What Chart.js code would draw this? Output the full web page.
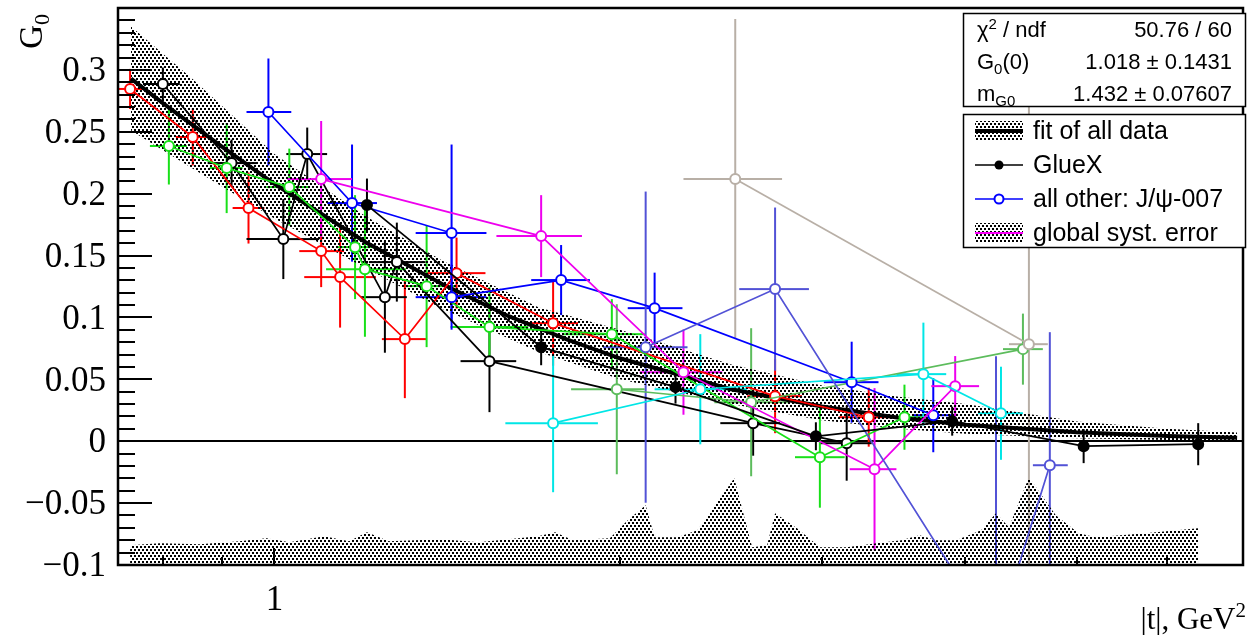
<!DOCTYPE html>
<html>
<head>
<meta charset="utf-8">
<script src="https://cdn.jsdelivr.net/npm/chart.js@4.4.0/dist/chart.umd.min.js"></script>
<style>
  html, body { margin: 0; padding: 0; background: #fff; }
  canvas { display: block; }
</style>
</head>
<body>
<canvas id="c" width="1250" height="635"></canvas>
<script>
// ---------- data: |t| (GeV^2), G0 values, errors ----------
// fit of all data (curve) and its uncertainty band
const fit_t  = [0.75, 0.8, 0.9, 1.0, 1.2, 1.4, 1.6, 1.8, 2.0, 2.5, 3.0, 3.5, 4.0, 5.0, 6.0, 6.9];
const fit_G  = [0.293, 0.273, 0.238, 0.208, 0.161, 0.127, 0.101, 0.082, 0.067, 0.042, 0.028, 0.019, 0.0134, 0.0073, 0.0043, 0.0028];
const band_t  = [0.75, 0.85, 1.0, 1.2, 1.4, 1.7, 2.0, 2.5, 3.0, 3.5, 4.0, 5.0, 6.0, 6.9];
const band_hi = [0.335, 0.292, 0.232, 0.182, 0.146, 0.108, 0.090, 0.062, 0.045, 0.036, 0.030, 0.016, 0.010, 0.007];
const band_lo = [0.251, 0.220, 0.180, 0.140, 0.107, 0.072, 0.050, 0.030, 0.017, 0.010, 0.006, 0.0025, 0.001, 0.0005];

// global systematic error (drawn up from the bottom of the frame)
const syst_t = [0.7486, 0.7948, 0.8609, 0.9325, 0.9842, 1.0304, 1.1050, 1.1616, 1.2041, 1.2582, 1.3985, 1.5061,
                1.6976, 1.7563, 1.8205, 1.9601, 2.0318, 2.1062, 2.1444, 2.2452, 2.3368, 2.5159, 2.6080, 2.6874,
                2.7307, 2.8534, 2.9874, 3.1525, 3.3469, 3.5184, 3.6475, 3.7733, 3.9270, 4.1282, 4.2537, 4.3657,
                4.5440, 4.7958, 5.0212, 5.1946, 5.7406, 6.3818];
const syst_top = [-0.0841, -0.0825, -0.0833, -0.0808, -0.0784, -0.0816, -0.0768, -0.0808, -0.0736, -0.0808, -0.0792, -0.0816,
                  -0.0768, -0.0736, -0.0800, -0.0784, -0.0639, -0.0517, -0.0776, -0.0776, -0.0719, -0.0299, -0.0857, -0.0841,
                  -0.0582, -0.0703, -0.0857, -0.0857, -0.0825, -0.0800, -0.0760, -0.0800, -0.0800, -0.0719, -0.0582, -0.0695,
                  -0.0291, -0.0598, -0.0744, -0.0776, -0.0744, -0.0703];

// GlueX
const gluex_t   = [1.2041, 1.7078, 2.2362, 2.9636, 3.8957, 5.0714, 6.3818];
const gluex_G   = [0.1908, 0.0760, 0.0437, 0.0040, 0.0162, -0.0040, -0.0024];
const gluex_err = [0.0214, 0.0146, 0.0133, 0.0113, 0.0117, 0.0137, 0.0170];

// J/psi-007 sets
const red_t   = [0.7486, 0.8489, 0.9494, 1.0984, 1.1409, 1.2992, 1.4412, 1.7493, 2.7307, 3.2950];
const red_lo  = [0.7307, 0.8207, 0.9196, 1.0512, 1.0617, 1.2407, 1.3545, 1.6641, 2.5820, 3.1025];
const red_hi  = [0.7757, 0.8730, 0.9802, 1.1500, 1.2260, 1.3572, 1.5273, 1.8388, 2.8821, 3.4834];
const red_G   = [0.2846, 0.2458, 0.1884, 0.1536, 0.1326, 0.0825, 0.1358, 0.0954, 0.0364, 0.0194];
const red_err = [0.0162, 0.0230, 0.0287, 0.0291, 0.0408, 0.0477, 0.0287, 0.0344, 0.0299, 0.0238];

const blk_t   = [0.7995, 0.9177, 1.0181, 1.0681, 1.2482, 1.2785, 1.5396, 2.6131, 3.1525];
const blk_lo  = [0.7682, 0.8747, 0.9456, 1.0243, 1.1899, 1.2089, 1.4528, 2.4465, 2.9874];
const blk_hi  = [0.8272, 0.9647, 1.0941, 1.1116, 1.3044, 1.3545, 1.6245, 2.7581, 3.3148];
const blk_G   = [0.2886, 0.2247, 0.1633, 0.2320, 0.1164, 0.1447, 0.0647, 0.0146, -0.0016];
const blk_err = [0.0133, 0.0190, 0.0323, 0.0214, 0.0449, 0.0319, 0.0412, 0.0263, 0.0303];

const grn_t   = [0.8092, 0.9087, 1.0304, 1.1757, 1.1992, 1.3572, 1.5396, 1.9680, 2.9874, 3.5400];
const grn_lo  = [0.7790, 0.8782, 0.9842, 1.1318, 1.1093, 1.3018, 1.4240, 1.7847, 2.8420, 3.4355];
const grn_hi  = [0.8388, 0.9381, 1.0724, 1.2260, 1.3018, 1.4383, 1.6641, 2.1020, 3.1399, 3.6990];
const grn_G   = [0.2385, 0.2207, 0.2053, 0.1568, 0.1390, 0.1253, 0.0922, 0.0865, -0.0129, 0.0194];
const grn_err = [0.0311, 0.0364, 0.0311, 0.0420, 0.0546, 0.0493, 0.0323, 0.0283, 0.0408, 0.0263];

const olv_t   = [1.9877, 2.6027, 4.4898];
const olv_lo  = [1.8135, 2.4174, 4.3140];
const olv_hi  = [2.1020, 2.8136, 4.6728];
const olv_G   = [0.0420, 0.0315, 0.0744];
const olv_err = [0.0687, 0.0598, 0.0287];

const blu_t   = [0.9881, 1.1686, 1.4269, 1.4269, 1.7776, 2.1444, 3.1842, 3.7507];
const blu_lo  = [0.9456, 1.1116, 1.3277, 1.3277, 1.6741, 2.0318, 3.0113, 3.6039];
const blu_hi  = [1.0345, 1.2285, 1.5303, 1.5303, 1.8834, 2.2676, 3.3603, 3.9270];
const blu_G   = [0.2660, 0.1924, 0.1682, 0.1164, 0.1302, 0.1075, 0.0477, 0.0210];
const blu_err = [0.0432, 0.0473, 0.0715, 0.0263, 0.0283, 0.0287, 0.0327, 0.0299];

const mag_t   = [1.0984, 1.7078, 2.2722, 3.3336, 3.9192];
const mag_lo  = [1.0263, 1.5612, 2.0812, 3.1714, 3.7357];
const mag_hi  = [1.1686, 1.8535, 2.4563, 3.4834, 4.1116];
const mag_G   = [0.2118, 0.1657, 0.0558, -0.0226, 0.0445];
const mag_err = [0.0469, 0.0331, 0.0344, 0.0655, 0.0243];

const cyn_t   = [1.7493, 2.3502, 3.6771, 4.2963];
const cyn_lo  = [1.5895, 2.1444, 3.4834, 4.1034];
const cyn_hi  = [1.9138, 2.5820, 3.8493, 4.4898];
const cyn_G   = [0.0146, 0.0420, 0.0542, 0.0226];
const cyn_err = [0.0558, 0.0445, 0.0416, 0.0376];

const slt_t   = [2.1062, 2.7307, 4.2537, 4.7387];
const slt_lo  = [1.9330, 2.5412, 4.0701, 4.5804];
const slt_hi  = [2.2907, 2.9226, 4.4449, 4.9124];
const slt_G   = [0.0760, 0.1229, -0.1593, -0.0194];
const slt_err = [0.1257, 0.0659, 0.2280, 0.1075];

const gry_t   = [2.5209, 4.5440];
const gry_lo  = [2.2722, 4.3657];
const gry_hi  = [2.7692, 4.7198];
const gry_G   = [0.2118, 0.0784];
const gry_err = [0.1293, 0.2255];

// axis ranges and ticks
const xRange = [0.7307, 6.982];
const yRange = [-0.1, 0.35];
const yMajorTicks  = [-0.1, -0.05, 0, 0.05, 0.1, 0.15, 0.2, 0.25, 0.3];
const yTickLabels  = ['\u22120.1', '\u22120.05', '0', '0.05', '0.1', '0.15', '0.2', '0.25', '0.3'];
const xMinorTicks  = [0.8, 0.9, 2, 3, 4, 5, 6];
const xMajorTicks  = [1];
const xTickLabels  = ['1'];

// fit results shown in the stats box
const statRows = [
  { label: [['\u03c7', 0], ['2', 1], [' / ndf', 0]], value: '50.76 / 60' },
  { label: [['G', 0], ['0', -1], ['(0)', 0]],        value: '1.018 \u00b1 0.1431' },
  { label: [['m', 0], ['G0', -1]],                   value: '1.432 \u00b1 0.07607' }
];
const legendLabels = ['fit of all data', 'GlueX', 'all other: J/\u03c8-007', 'global syst. error'];

// ---------- drawing ----------
const SANS = '"Liberation Sans", Arial, Helvetica, sans-serif';
const SERIF = '"Liberation Serif", "Times New Roman", serif';

// staggered dot fill used for the error bands
function makeDots() {
  const tile = document.createElement('canvas');
  tile.width = 4; tile.height = 6;
  const g = tile.getContext('2d');
  g.fillStyle = '#000';
  g.fillRect(0, 0, 2, 2);
  g.fillRect(2, 3, 2, 2);
  return tile;
}

const canvas = document.getElementById('c');
const ctx0 = canvas.getContext('2d');
const dots = ctx0.createPattern(makeDots(), 'repeat');

const SERIES = [
  { color: '#ff0000', t: red_t, lo: red_lo, hi: red_hi, g: red_G, err: red_err },
  { color: '#000000', t: blk_t, lo: blk_lo, hi: blk_hi, g: blk_G, err: blk_err },
  { color: '#19e019', t: grn_t, lo: grn_lo, hi: grn_hi, g: grn_G, err: grn_err },
  { color: '#5cbc5c', t: olv_t, lo: olv_lo, hi: olv_hi, g: olv_G, err: olv_err },
  { color: '#0000ff', t: blu_t, lo: blu_lo, hi: blu_hi, g: blu_G, err: blu_err },
  { color: '#ee00ee', t: mag_t, lo: mag_lo, hi: mag_hi, g: mag_G, err: mag_err },
  { color: '#00e6e6', t: cyn_t, lo: cyn_lo, hi: cyn_hi, g: cyn_G, err: cyn_err },
  { color: '#5252d6', t: slt_t, lo: slt_lo, hi: slt_hi, g: slt_G, err: slt_err },
  { color: '#b8afa6', t: gry_t, lo: gry_lo, hi: gry_hi, g: gry_G, err: gry_err },
  { color: '#000000', t: gluex_t, g: gluex_G, err: gluex_err, filled: true }
];

const pts = (xs, ys) => xs.map((x, i) => ({ x: x, y: ys[i] }));

const datasets = [
  { data: pts(band_t, band_lo), showLine: true, borderWidth: 0, pointRadius: 0, fill: false, order: 100 },
  { data: pts(band_t, band_hi), showLine: true, borderWidth: 0, pointRadius: 0, fill: '-1', backgroundColor: dots, order: 99 },
  { data: pts(syst_t, syst_top), showLine: true, borderWidth: 0, pointRadius: 0, fill: 'start', backgroundColor: dots, order: 98 },
  { data: pts(fit_t, fit_G), showLine: true, borderWidth: 4, borderColor: '#000', pointRadius: 0, fill: false, order: 97 }
];
SERIES.forEach((s, k) => {
  datasets.push({
    data: pts(s.t, s.g),
    showLine: true,
    borderColor: s.color,
    borderWidth: 1.7,
    pointStyle: 'circle',
    pointRadius: 5,
    pointBorderWidth: 2,
    pointBorderColor: s.color,
    pointBackgroundColor: s.filled ? s.color : '#ffffff',
    fill: false,
    order: 50 - k
  });
});

function seg(ctx, x1, y1, x2, y2) {
  if ((x2 - x1) * (x2 - x1) + (y2 - y1) * (y2 - y1) < 0.5) return;
  ctx.beginPath(); ctx.moveTo(x1, y1); ctx.lineTo(x2, y2); ctx.stroke();
}

const errorBars = {
  id: 'errorBars',
  beforeDatasetsDraw(chart) {
    const { ctx, chartArea: a, scales: { x, y } } = chart;
    ctx.save();
    // zero line
    ctx.strokeStyle = '#000'; ctx.lineWidth = 2;
    const y0 = Math.round(y.getPixelForValue(0));
    seg(ctx, a.left, y0, a.right, y0);
    ctx.beginPath(); ctx.rect(a.left, a.top, a.right - a.left, a.bottom - a.top); ctx.clip();
    ctx.lineWidth = 2;
    const r = 5;
    SERIES.forEach(s => {
      ctx.strokeStyle = s.color;
      s.t.forEach((t, i) => {
        const px = x.getPixelForValue(t), py = y.getPixelForValue(s.g[i]);
        if (s.lo) {
          const l = x.getPixelForValue(s.lo[i]), h = x.getPixelForValue(s.hi[i]);
          seg(ctx, l, py, px - r, py); seg(ctx, px + r, py, h, py);
        }
        const top = y.getPixelForValue(s.g[i] + s.err[i]), bot = y.getPixelForValue(s.g[i] - s.err[i]);
        seg(ctx, px, top, px, py - r); seg(ctx, px, py + r, px, bot);
      });
    });
    ctx.restore();
  }
};

function drawRich(ctx, parts, x, y, size, align, family) {
  const fam = family || SANS;
  let w = 0;
  parts.forEach(([txt, k]) => {
    ctx.font = (k ? Math.round(size * 0.68) : size) + 'px ' + fam;
    w += ctx.measureText(txt).width;
  });
  let cx = align === 'right' ? x - w : x;
  ctx.textAlign = 'left';
  ctx.textBaseline = 'alphabetic';
  parts.forEach(([txt, k]) => {
    ctx.font = (k ? Math.round(size * 0.68) : size) + 'px ' + fam;
    const dy = k === 1 ? -size * 0.38 : (k === -1 ? size * 0.22 : 0);
    ctx.fillText(txt, cx, y + dy);
    cx += ctx.measureText(txt).width;
  });
}

const frame = {
  id: 'frame',
  afterDatasetsDraw(chart) {
    const { ctx, chartArea: a, scales: { x, y } } = chart;
    ctx.save();
    ctx.strokeStyle = '#000';
    // y ticks (inside the frame)
    ctx.lineWidth = 2;
    for (let k = 0; k <= 45; k++) {
      const v = yRange[0] + k * 0.01;
      const py = Math.round(y.getPixelForValue(v));
      const len = (k % 5 === 0) ? 34 : 17;
      seg(ctx, a.left, py, a.left + len, py);
    }
    // x ticks
    xMinorTicks.forEach(v => { const px = Math.round(x.getPixelForValue(v)); seg(ctx, px, a.bottom, px, a.bottom - 8); });
    xMajorTicks.forEach(v => { const px = Math.round(x.getPixelForValue(v)); seg(ctx, px, a.bottom, px, a.bottom - 17); });
    // frame
    ctx.lineWidth = 2.5;
    ctx.strokeRect(a.left, a.top, a.right - a.left, a.bottom - a.top);

    // tick labels
    ctx.fillStyle = '#000';
    ctx.font = '35px ' + SERIF;
    ctx.textAlign = 'right'; ctx.textBaseline = 'middle';
    yMajorTicks.forEach((v, i) => ctx.fillText(yTickLabels[i], 106, y.getPixelForValue(v) + 2));
    ctx.textAlign = 'center'; ctx.textBaseline = 'middle';
    xMajorTicks.forEach((v, i) => ctx.fillText(xTickLabels[i], x.getPixelForValue(v), 601));

    // axis titles
    drawRich(ctx, [['|t|, GeV', 0], ['2', 1]], 1246, 629, 31, 'right', SERIF);
    ctx.save();
    ctx.translate(42, 14);
    ctx.rotate(-Math.PI / 2);
    drawRich(ctx, [['G', 0], ['0', -1]], 0, 0, 33, 'right', SERIF);
    ctx.restore();

    // stats box
    ctx.fillStyle = '#fff';
    ctx.fillRect(963, 13, 283, 94);
    ctx.lineWidth = 1.5; ctx.strokeStyle = '#000';
    ctx.strokeRect(963.5, 13.5, 282, 93);
    ctx.fillStyle = '#000';
    const rowY = [37, 69, 101];
    statRows.forEach((row, i) => {
      drawRich(ctx, row.label, 977, rowY[i], 22, 'left');
      ctx.font = '22px ' + SANS; ctx.textAlign = 'right'; ctx.textBaseline = 'alphabetic';
      ctx.fillText(row.value, 1232, rowY[i]);
    });

    // legend box
    ctx.fillStyle = '#fff';
    ctx.fillRect(963, 114, 283, 134);
    ctx.strokeRect(963.5, 114.5, 282, 133);
    const ly = [131, 165, 199, 233];
    const sx0 = 975, sx1 = 1023, smid = 999;
    ctx.fillStyle = dots; ctx.fillRect(sx0, ly[0] - 10, sx1 - sx0, 20);
    ctx.strokeStyle = '#000'; ctx.lineWidth = 4; seg(ctx, sx0, ly[0], sx1, ly[0]);
    ctx.lineWidth = 1.6; seg(ctx, sx0, ly[1], sx1, ly[1]);
    ctx.fillStyle = '#000'; ctx.beginPath(); ctx.arc(smid, ly[1], 4.5, 0, Math.PI * 2); ctx.fill();
    ctx.strokeStyle = '#0000ff'; seg(ctx, sx0, ly[2], sx1, ly[2]);
    ctx.fillStyle = '#fff'; ctx.lineWidth = 2; ctx.beginPath(); ctx.arc(smid, ly[2], 4.5, 0, Math.PI * 2); ctx.fill(); ctx.stroke();
    ctx.fillStyle = dots; ctx.fillRect(sx0, ly[3] - 10, sx1 - sx0, 20);
    ctx.strokeStyle = '#ff00ff'; ctx.lineWidth = 2; seg(ctx, sx0, ly[3], sx1, ly[3]);

    ctx.fillStyle = '#000';
    ctx.font = '25px ' + SANS; ctx.textAlign = 'left'; ctx.textBaseline = 'middle';
    legendLabels.forEach((s, i) => ctx.fillText(s, 1033, ly[i] + 1));
    ctx.restore();
  }
};

new Chart(ctx0, {
  type: 'scatter',
  data: { datasets: datasets },
  options: {
    responsive: false,
    animation: false,
    devicePixelRatio: 1,
    layout: { padding: { left: 118, top: 8, right: 2, bottom: 70 } },
    scales: {
      x: { type: 'logarithmic', min: xRange[0], max: xRange[1], bounds: 'data', display: false,
           afterBuildTicks: s => { s.min = xRange[0]; s.max = xRange[1]; } },
      y: { type: 'linear', min: yRange[0], max: yRange[1], bounds: 'data', display: false }
    },
    elements: { line: { tension: 0 } },
    plugins: { legend: { display: false }, tooltip: { enabled: false } }
  },
  plugins: [errorBars, frame]
});
</script>
</body>
</html>
